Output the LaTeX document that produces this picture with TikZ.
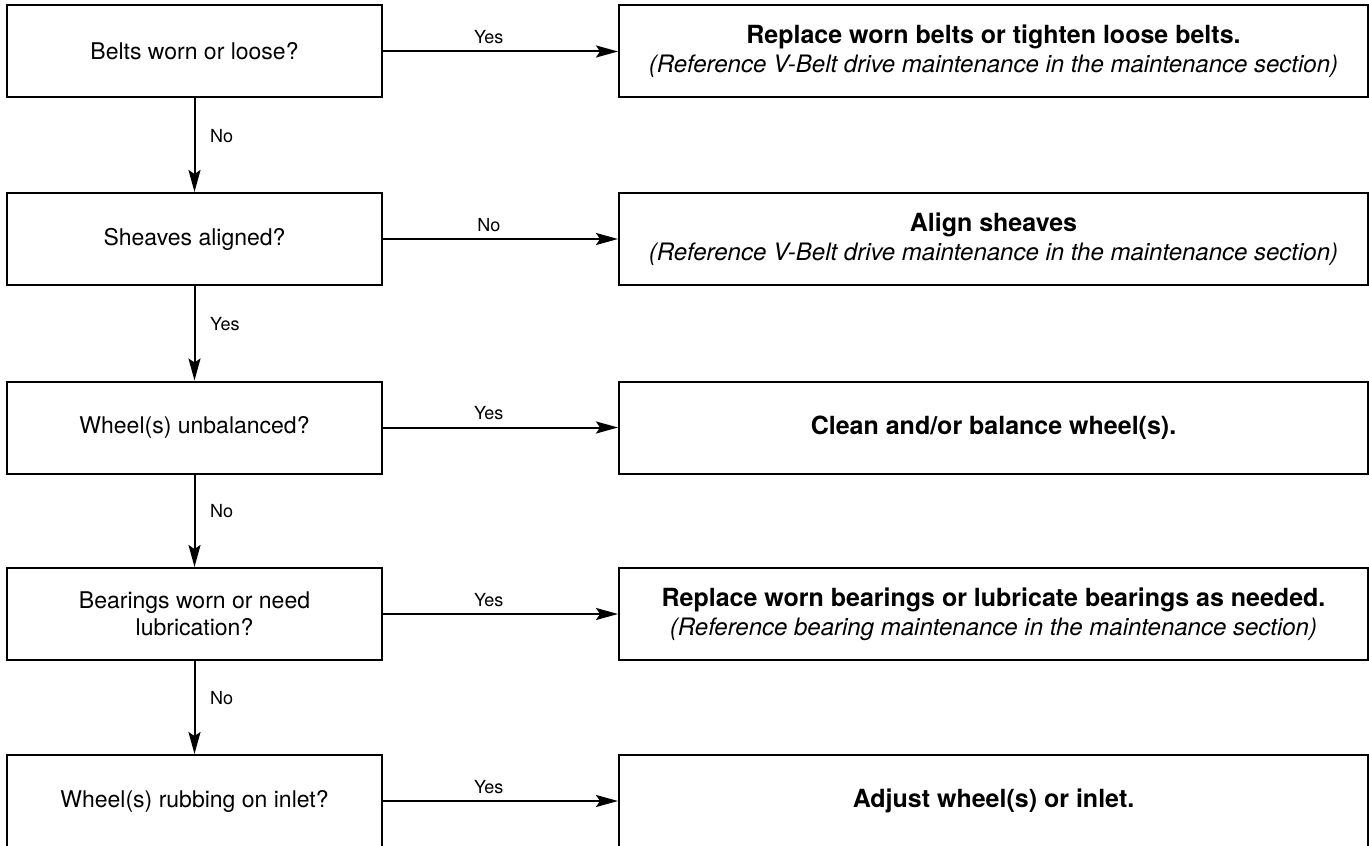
\documentclass[tikz,border=0pt]{standalone}
\usepackage{fontspec}
\setmainfont{TeX Gyre Heros}
\usetikzlibrary{arrows.meta,positioning}
\newcommand{\acthead}[1]{{\fontsize{12.5}{14.5}\selectfont\bfseries #1}}
\newcommand{\actnote}[1]{{\itshape #1}}

\begin{document}
\begin{tikzpicture}[x=0.5pt,y=-0.5pt,
  qbox/.style={draw,line width=1pt,minimum width=187.5pt,minimum height=46pt,
    inner sep=0pt,align=center,font=\fontsize{11.5}{13.5}\selectfont},
  abox/.style={qbox,minimum width=374.5pt,font=\fontsize{12}{14.5}\selectfont},
  flow/.style={-{Stealth[length=11pt,width=6pt,inset=2pt]},line width=1pt},
  lbl/.style={font=\fontsize{9}{10}\selectfont}]
\useasboundingbox (0,0) rectangle (1369,845);
% Left column: questions
\node[qbox] (q1) at (194.5,51.5) {Belts worn or loose?};
\node[qbox] (q2) at (194.5,239) {Sheaves aligned?};
\node[qbox] (q3) at (194.5,427.5) {Wheel(s) unbalanced?};
\node[qbox] (q4) at (194.5,614) {Bearings worn or need\\lubrication?};
\node[qbox] (q5) at (194.5,801) {Wheel(s) rubbing on inlet?};
% Right column: actions
\node[abox] (a1) at (993.5,51.5) {\acthead{Replace worn belts or tighten loose belts.}\\
  \actnote{(Reference V-Belt drive maintenance in the maintenance section)}};
\node[abox] (a2) at (993.5,239) {\acthead{Align sheaves}\\
  \actnote{(Reference V-Belt drive maintenance in the maintenance section)}};
\node[abox] (a3) at (993.5,427.5) {\acthead{Clean and/or balance wheel(s).}};
\node[abox] (a4) at (993.5,614) {\acthead{Replace worn bearings or lubricate bearings as needed.}\\
  \actnote{(Reference bearing maintenance in the maintenance section)}};
\node[abox] (a5) at (993.5,801) {\acthead{Adjust wheel(s) or inlet.}};
% Down the questions
\draw[flow] (q1) -- node[lbl,pos=0.4,right=4pt] {No} (q2);
\draw[flow] (q2) -- node[lbl,pos=0.4,right=4pt] {Yes} (q3);
\draw[flow] (q3) -- node[lbl,pos=0.4,right=4pt] {No} (q4);
\draw[flow] (q4) -- node[lbl,pos=0.4,right=4pt] {No} (q5);
% Across to the actions
\draw[flow] (q1) -- node[lbl,pos=0.45,above] {Yes} (a1);
\draw[flow] (q2) -- node[lbl,pos=0.45,above] {No} (a2);
\draw[flow] (q3) -- node[lbl,pos=0.45,above] {Yes} (a3);
\draw[flow] (q4) -- node[lbl,pos=0.45,above] {Yes} (a4);
\draw[flow] (q5) -- node[lbl,pos=0.45,above] {Yes} (a5);
\end{tikzpicture}
\end{document}
